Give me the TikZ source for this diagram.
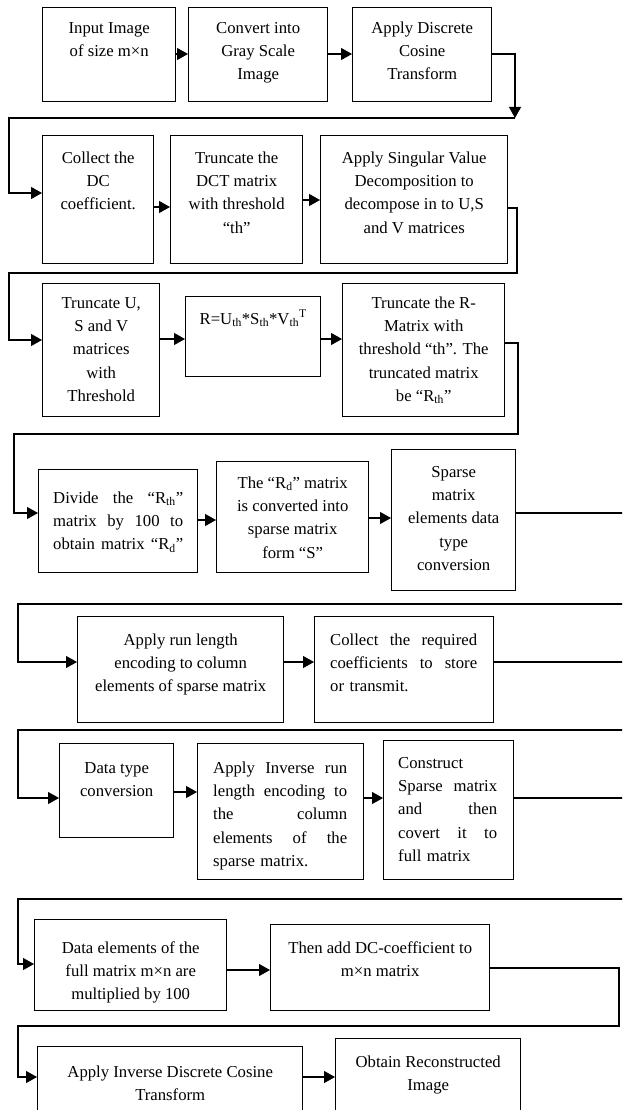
\documentclass[tikz,border=0pt]{standalone}
\usepackage{fontspec}
\setmainfont{Liberation Serif}
\usetikzlibrary{arrows.meta}
\newcommand\firstl{\rule{0pt}{13pt}}
\newcommand\jline[2]{\noindent\makebox[#1][s]{\spaceskip=0.25em plus 3em\relax #2}}
\tikzset{
  box/.style={draw, line width=1.4pt, inner sep=0pt, anchor=north west},
  txt/.style={inner sep=0pt, anchor=north, align=center, font=\fontsize{16.7}{23.3}\selectfont},
  jtxt/.style={inner sep=0pt, anchor=north west, align=left, font=\fontsize{16.7}{23.3}\selectfont},
  arr/.style={-{Triangle[length=11pt,width=12pt]}, line width=1.2pt},
}
\begin{document}
\begin{tikzpicture}[x=1pt,y=-1pt]
\clip (0,0) rectangle (622,1110);
\fill[white] (0,0) rectangle (622,1110);
% ---------- boxes ----------
\node[box, minimum width=133pt, minimum height=94pt] (A) at (42,7) {};
\node[box, minimum width=139pt, minimum height=94pt] (B) at (188,7) {};
\node[box, minimum width=139pt, minimum height=94pt] (C) at (352,7) {};
\node[box, minimum width=111pt, minimum height=128pt] (D) at (42,135) {};
\node[box, minimum width=132pt, minimum height=128pt] (E) at (170,135) {};
\node[box, minimum width=187pt, minimum height=128pt] (F) at (320,135) {};
\node[box, minimum width=117pt, minimum height=133pt] (G) at (42,283) {};
\node[box, minimum width=135pt, minimum height=80pt] (H) at (185,296) {};
\node[box, minimum width=162pt, minimum height=133pt] (I) at (342,283) {};
\node[box, minimum width=159pt, minimum height=103pt] (J) at (38,469) {};
\node[box, minimum width=152pt, minimum height=111pt] (K) at (216,461) {};
\node[box, minimum width=124pt, minimum height=141pt] (L) at (391,449) {};
\node[box, minimum width=206pt, minimum height=106pt] (M) at (77,616) {};
\node[box, minimum width=179pt, minimum height=106pt] (N) at (314,616) {};
\node[box, minimum width=114pt, minimum height=94pt] (O) at (59,743) {};
\node[box, minimum width=166pt, minimum height=136pt] (P) at (197,743) {};
\node[box, minimum width=130pt, minimum height=139pt] (Q) at (383,740) {};
\node[box, minimum width=192pt, minimum height=91pt] (R) at (34,919) {};
\node[box, minimum width=219pt, minimum height=86pt] (S) at (270,924) {};
\node[box, minimum width=265pt, minimum height=94pt] (T) at (37,1046) {};
\node[box, minimum width=185pt, minimum height=102pt] (U) at (335,1038) {};
% ---------- texts ----------
\node[txt] (tA) at ([yshift=-13pt]A.north) {\firstl Input Image\\of size m×n};
\node[txt] (tB) at ([yshift=-13pt]B.north) {\firstl Convert into\\Gray Scale\\Image};
\node[txt] (tC) at ([yshift=-13pt]C.north) {\firstl Apply Discrete\\Cosine\\Transform};
\node[txt] (tD) at ([yshift=-15pt]D.north) {\firstl Collect the\\DC\\coefficient.};
\node[txt] (tE) at ([yshift=-15pt]E.north) {\firstl Truncate the\\DCT matrix\\with threshold\\“th”};
\node[txt] (tF) at ([yshift=-15pt]F.north) {\firstl Apply Singular Value\\Decomposition to\\decompose in to U,S\\and V matrices};
\node[txt] (tG) at ([yshift=-12pt]G.north) {\firstl Truncate U,\\S and V\\matrices\\with\\Threshold};
\node[txt] (tH) at ([yshift=-14pt]H.north) {\firstl R=U\textsubscript{th}*S\textsubscript{th}*V\textsubscript{th}\textsuperscript{T}};
\node[txt] (tI) at ([yshift=-12pt]I.north) {\firstl Truncate the R-\\Matrix with\\threshold “th”. The\\truncated matrix\\be “R\textsubscript{th}”};
\node[jtxt, text width=130pt] (tJ) at (53,490) {\jline{130pt}{\firstl Divide the “R\textsubscript{th}”}\\\jline{130pt}{matrix by 100 to}\\\jline{130pt}{obtain matrix “R\textsubscript{d}”}};
\node[txt] (tK) at ([yshift=-14pt]K.north) {\firstl The “R\textsubscript{d}” matrix\\is converted into\\sparse matrix\\form “S”};
\node[txt] (tL) at ([yshift=-15pt]L.north) {\firstl Sparse\\matrix\\elements data\\type\\conversion};
\node[txt] (tM) at ([yshift=-16pt]M.north) {\firstl Apply run length\\encoding to column\\elements of sparse matrix};
\node[jtxt, text width=147pt] (tN) at (330,632) {\jline{147pt}{\firstl Collect the required}\\\jline{147pt}{coefficients to store}\\or transmit.};
\node[txt] (tO) at ([yshift=-17pt]O.north) {\firstl Data type\\conversion};
\node[jtxt, text width=134pt] (tP) at (213,760) {\jline{134pt}{\firstl Apply Inverse run}\\\jline{134pt}{length encoding to}\\\jline{134pt}{the column}\\\jline{134pt}{elements of the}\\sparse matrix.};
\node[jtxt, text width=99pt] (tQ) at (398,755) {\firstl Construct\\\jline{99pt}{Sparse matrix}\\\jline{99pt}{and then}\\\jline{99pt}{covert it to}\\full matrix};
\node[txt] (tR) at ([yshift=-21pt]R.north) {\firstl Data elements of the\\full matrix m×n are\\multiplied by 100};
\node[txt] (tS) at ([yshift=-16pt]S.north) {\firstl Then add DC-coefficient to\\m×n matrix};
\node[txt] (tT) at ([yshift=-18pt]T.north) {\firstl Apply Inverse Discrete Cosine\\Transform};
\node[txt] (tU) at ([yshift=-16pt]U.north) {\firstl Obtain Reconstructed\\Image};
% ---------- helper coordinates ----------
\coordinate (y1) at (0,54);
\coordinate (c1) at (515,118);
\coordinate (c1l) at (9,118);
\coordinate (c1d) at (9,193);
\coordinate (y2a) at (0,207);
\coordinate (y2b) at (0,200);
\coordinate (y2c) at (0,208);
\coordinate (c2r) at (517,273);
\coordinate (c2l) at (9,273);
\coordinate (c2d) at (9,340);
\coordinate (y3) at (0,339);
\coordinate (y3c) at (0,343);
\coordinate (c3r) at (518,434);
\coordinate (c3l) at (14,434);
\coordinate (c3d) at (14,513);
\coordinate (y4a) at (0,520);
\coordinate (y4b) at (0,518);
\coordinate (y4c) at (0,513);
\coordinate (c4r) at (630,604);
\coordinate (c4l) at (18,604);
\coordinate (c4d) at (18,662);
\coordinate (c5r) at (630,730);
\coordinate (c5l) at (18,730);
\coordinate (c5d) at (18,798);
\coordinate (y6a) at (0,792);
\coordinate (y6b) at (0,798);
\coordinate (c6r) at (630,899);
\coordinate (c6l) at (18,899);
\coordinate (c6d) at (18,964);
\coordinate (y7a) at (0,970);
\coordinate (y7b) at (0,968);
\coordinate (c7r) at (619,1026);
\coordinate (c7l) at (18,1026);
\coordinate (c7d) at (18,1077);
% ---------- connectors ----------
\draw[arr] (A.east |- y1) -- (B.west |- y1);
\draw[arr] (B.east |- y1) -- (C.west |- y1);
\draw[arr] (C.east |- y1) -| (c1);
\draw[arr] (c1) -- (c1l) -- (c1d) -- (D.west |- c1d);
\draw[arr] (D.east |- y2a) -- (E.west |- y2a);
\draw[arr] (E.east |- y2b) -- (F.west |- y2b);
\draw[arr] (F.east |- y2c) -| (c2r) -- (c2l) -- (c2d) -- (G.west |- c2d);
\draw[arr] (G.east |- y3) -- (H.west |- y3);
\draw[arr] (H.east |- y3) -- (I.west |- y3);
\draw[arr] (I.east |- y3c) -| (c3r) -- (c3l) -- (c3d) -- (J.west |- c3d);
\draw[arr] (J.east |- y4a) -- (K.west |- y4a);
\draw[arr] (K.east |- y4b) -- (L.west |- y4b);
\draw[arr] (L.east |- y4c) -| (c4r) -- (c4l) -- (c4d) -- (M.west |- c4d);
\draw[arr] (M.east |- c4d) -- (N.west |- c4d);
\draw[arr] (N.east |- c4d) -| (c5r) -- (c5l) -- (c5d) -- (O.west |- c5d);
\draw[arr] (O.east |- y6a) -- (P.west |- y6a);
\draw[arr] (P.east |- y6b) -- (Q.west |- y6b);
\draw[arr] (Q.east |- y6b) -| (c6r) -- (c6l) -- (c6d) -- (R.west |- c6d);
\draw[arr] (R.east |- y7a) -- (S.west |- y7a);
\draw[arr] (S.east |- y7b) -| (c7r) -- (c7l) -- (c7d) -- (T.west |- c7d);
\draw[arr] (T.east |- c7d) -- (U.west |- c7d);
\end{tikzpicture}
\end{document}
